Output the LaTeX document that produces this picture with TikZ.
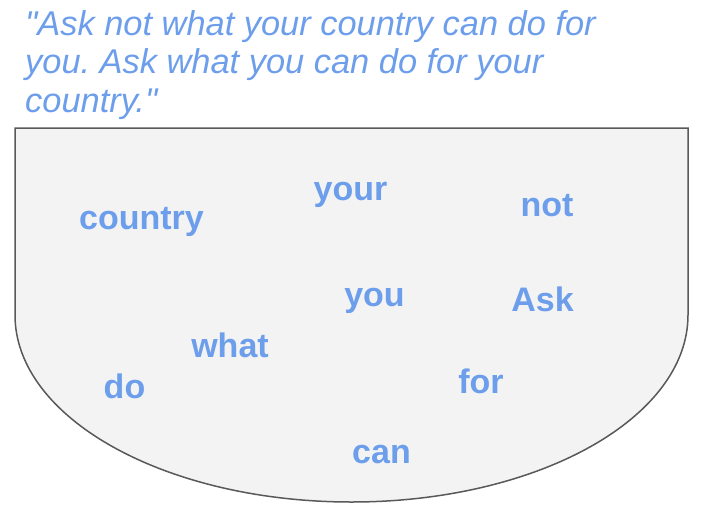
\documentclass[tikz,border=0pt]{standalone}
\usepackage{fontspec}
\setmainfont{Liberation Sans}
\usepackage{tikz}
\frenchspacing
\definecolor{wordblue}{HTML}{6D9EEB}
\definecolor{bowlfill}{HTML}{F3F3F3}
\definecolor{bowlline}{HTML}{595959}
\tikzset{
  quoteline/.style={anchor=base west,inner sep=0pt,text=wordblue,font=\fontsize{34.4}{39}\selectfont\itshape},
  word/.style={anchor=base,inner sep=0pt,text=wordblue,font=\fontsize{34}{39}\selectfont\bfseries}
}
\begin{document}
\begin{tikzpicture}[x=1pt,y=-1pt]
        \useasboundingbox (0,0) rectangle (702,512);
        % the bowl
        \draw[bowlline,fill=bowlfill,line width=1.5pt] (15,128) -- (688,128) -- (688,315)
          arc[start angle=0,end angle=180,x radius=336.5,y radius=187] -- cycle;
        % the quote
        \node[quoteline] (q1) at (25,35) {\textquotedbl Ask not what your country can do for};
        \node[quoteline] (q2) at (25,73.5) {you. Ask what you can do for your};
        \node[quoteline] (q3) at (25,112) {country.\textquotedbl};
        % the words in the bowl
        \foreach \w/\x/\y in {country/141.5/229,your/350.5/200.5,not/547/216,
            you/374.5/306,Ask/542.5/311.5,what/230/357,do/124.5/398,
            for/481/393,can/381.5/463} {
            \node[word] (w-\w) at (\x,\y) {\w};
          }
      \end{tikzpicture}
\end{document}
